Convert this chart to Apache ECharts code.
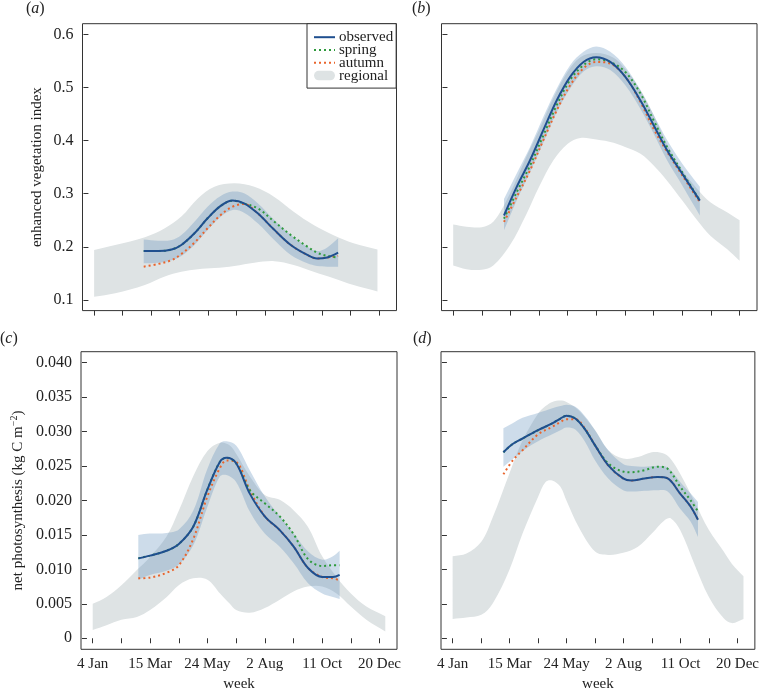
<!DOCTYPE html>
<html><head><meta charset="utf-8">
<script src="https://cdn.jsdelivr.net/npm/echarts@6/dist/echarts.min.js"></script>
<style>html,body{margin:0;padding:0;background:#fff}#c{width:762px;height:693px}</style>
</head><body><div id="c"></div>
<script>
// ---- tick definitions ----
const weekTicks = [1, 6, 11, 16, 21, 26, 31, 36, 41, 46, 51];
const dateLabelWeeks = [1, 11, 21, 31, 41, 51];
const dateLabels = ['4 Jan', '15 Mar', '24 May', '2 Aug', '11 Oct', '20 Dec'];
const eviTicks = [0.1, 0.2, 0.3, 0.4, 0.5, 0.6];
const eviTickLabels = ['0.1', '0.2', '0.3', '0.4', '0.5', '0.6'];
const npTicks = [0, 0.005, 0.010, 0.015, 0.020, 0.025, 0.030, 0.035, 0.040];
const npTickLabels = ['0', '0.005', '0.010', '0.015', '0.020', '0.025', '0.030', '0.035', '0.040'];

// ---- panel (a): EVI ----
const aRegWeeks = [1, 4.7, 9.9, 13.4, 16.3, 19.2, 22.1, 25.6, 29.1, 32.6, 36, 39.5, 43, 46.5, 50.7];
const aRegHi = [0.194, 0.2035, 0.218, 0.235, 0.257, 0.291, 0.313, 0.3195, 0.313, 0.294, 0.266, 0.241, 0.222, 0.207, 0.195];
const aRegLo = [0.106, 0.1125, 0.128, 0.144, 0.153, 0.158, 0.160, 0.164, 0.170, 0.173, 0.166, 0.153, 0.141, 0.128, 0.116];
const aObsWeeks = [9.7, 12.2, 14.6, 16.3, 18.6, 20.9, 23.2, 25.3, 27.3, 29.7, 32.6, 35.5, 38.4, 40.1, 41.9, 43.8];
const aObs = [0.192, 0.192, 0.195, 0.2035, 0.2255, 0.2537, 0.277, 0.287, 0.282, 0.263, 0.232, 0.2035, 0.1847, 0.178, 0.180, 0.189];
const aObsHi = [0.214, 0.2117, 0.213, 0.2223, 0.2474, 0.2756, 0.2957, 0.304, 0.3007, 0.282, 0.2505, 0.2223, 0.2004, 0.192, 0.199, 0.216];
const aObsLo = [0.169, 0.170, 0.175, 0.183, 0.2035, 0.2317, 0.2568, 0.2694, 0.2643, 0.2443, 0.213, 0.1847, 0.169, 0.164, 0.1627, 0.1627];
const aSpring = [0.192, 0.192, 0.195, 0.2035, 0.2255, 0.2537, 0.277, 0.287, 0.2815, 0.2725, 0.2474, 0.2223, 0.2004, 0.189, 0.183, 0.180];
const aAutumn = [0.1627, 0.1677, 0.175, 0.1866, 0.2079, 0.2349, 0.260, 0.2756, 0.2807, 0.263, 0.232, 0.2035, 0.1847, 0.178, 0.180, 0.183];

// ---- panel (b): EVI ----
const bRegWeeks = [1, 3.3, 6, 8, 10.9, 13.8, 16, 18.5, 21, 23.2, 26, 29, 31, 33.7, 36, 38.3, 41, 43.6, 45.9, 48.8, 51];
const bRegHi = [0.242, 0.238, 0.237, 0.247, 0.30, 0.37, 0.42, 0.48, 0.53, 0.557, 0.565, 0.556, 0.535, 0.495, 0.448, 0.394, 0.344, 0.309, 0.284, 0.265, 0.25];
const bRegLo = [0.165, 0.158, 0.157, 0.165, 0.203, 0.262, 0.313, 0.363, 0.394, 0.405, 0.402, 0.396, 0.388, 0.375, 0.353, 0.325, 0.287, 0.25, 0.221, 0.196, 0.174];
const bObsWeeks = [9.87, 12.09, 14.42, 16.75, 19.09, 21.42, 23.75, 25.97, 28.42, 31.05, 33.67, 36, 38.34, 40.97, 44.06];
const bObs = [0.259, 0.313, 0.363, 0.42, 0.476, 0.52, 0.548, 0.557, 0.548, 0.52, 0.476, 0.429, 0.382, 0.338, 0.287];
const bObsHi = [0.29, 0.338, 0.388, 0.445, 0.498, 0.542, 0.567, 0.577, 0.567, 0.539, 0.495, 0.448, 0.401, 0.357, 0.313];
const bObsLo = [0.231, 0.287, 0.341, 0.397, 0.454, 0.498, 0.53, 0.54, 0.533, 0.504, 0.46, 0.413, 0.363, 0.316, 0.259];
const bSpring = [0.253, 0.303, 0.353, 0.41, 0.467, 0.514, 0.542, 0.553, 0.548, 0.529, 0.489, 0.438, 0.388, 0.341, 0.287];
const bAutumn = [0.247, 0.294, 0.344, 0.401, 0.457, 0.504, 0.536, 0.548, 0.545, 0.52, 0.473, 0.422, 0.379, 0.335, 0.284];

// ---- panel (c): net photosynthesis ----
const cRegWeeks = [1, 3.4, 6, 8.7, 11, 13.9, 16, 18.5, 21, 23.2, 24.9, 26, 28.4, 31, 33.6, 36, 38.5, 41, 43.5, 46, 48.7, 52];
const cRegHi = [0.005, 0.006, 0.0077, 0.0099, 0.0118, 0.0148, 0.0185, 0.0235, 0.0272, 0.0284, 0.028, 0.0268, 0.0235, 0.0208, 0.0201, 0.0186, 0.0162, 0.0119, 0.0089, 0.0065, 0.0046, 0.0032];
const cRegLo = [0.0012, 0.0019, 0.0027, 0.0031, 0.0041, 0.006, 0.0077, 0.0087, 0.0085, 0.0065, 0.005, 0.0041, 0.0037, 0.0044, 0.0056, 0.0068, 0.0075, 0.0075, 0.0065, 0.0046, 0.0027, 0.001];
const cObsWeeks = [8.95, 10.98, 13.88, 16.02, 18.52, 20.95, 23.16, 24.32, 26.0, 28.38, 30.99, 33.6, 36.03, 38.53, 41.02, 42.88, 44.04];
const cObs = [0.0116, 0.0120, 0.0127, 0.0137, 0.0162, 0.0215, 0.0256, 0.0262, 0.0254, 0.0210, 0.0177, 0.0157, 0.0133, 0.0102, 0.0089, 0.0089, 0.0092];
const cObsHi = [0.0150, 0.0152, 0.0153, 0.0158, 0.0185, 0.0245, 0.0283, 0.0286, 0.0280, 0.0244, 0.0206, 0.0177, 0.0152, 0.0126, 0.0114, 0.0119, 0.0127];
const cObsLo = [0.0085, 0.0092, 0.0098, 0.0107, 0.0135, 0.0190, 0.0235, 0.0237, 0.0227, 0.0184, 0.0152, 0.0133, 0.0109, 0.0080, 0.0065, 0.0060, 0.0057];
const cSpring = [0.0116, 0.0120, 0.0127, 0.0137, 0.0162, 0.0215, 0.0256, 0.0262, 0.0254, 0.0215, 0.0196, 0.0177, 0.0151, 0.0115, 0.0105, 0.0106, 0.0106];
const cAutumn = [0.0087, 0.0088, 0.0095, 0.0106, 0.0144, 0.0205, 0.0247, 0.0258, 0.0256, 0.0215, 0.0177, 0.0157, 0.0133, 0.0102, 0.0089, 0.0087, 0.0084];

// ---- panel (d): net photosynthesis ----
const dRegWeeks = [1, 3.43, 6.03, 8.06, 10.95, 13.27, 15.99, 17.32, 18.48, 19.92, 20.97, 23.1, 26, 28.31, 30.92, 33.52, 35.95, 38.15, 39.31, 40.93, 43.36, 45.97, 48.57, 50.02, 52.04];
const dRegHi = [0.0119, 0.0123, 0.014, 0.0176, 0.0239, 0.0287, 0.0326, 0.0337, 0.0343, 0.0345, 0.0343, 0.0331, 0.0302, 0.0273, 0.0261, 0.0263, 0.027, 0.0268, 0.026, 0.0239, 0.02, 0.0157, 0.0126, 0.0108, 0.009];
const dRegLo = [0.0028, 0.003, 0.0034, 0.0051, 0.0099, 0.0152, 0.0205, 0.0227, 0.0229, 0.022, 0.02, 0.0162, 0.0126, 0.0121, 0.0124, 0.0133, 0.0152, 0.0171, 0.0174, 0.0157, 0.0109, 0.006, 0.0029, 0.0022, 0.0028];
const dObsWeeks = [9.91, 11.53, 13.27, 15.99, 18.48, 19.92, 20.97, 22.53, 24.26, 26, 28.31, 30.92, 32.37, 34.68, 36.99, 38.73, 40.93, 42.78, 44.06];
const dObs = [0.027, 0.0282, 0.029, 0.0302, 0.0312, 0.0319, 0.0323, 0.0319, 0.0303, 0.028, 0.0251, 0.0232, 0.0229, 0.0232, 0.0234, 0.0232, 0.021, 0.0191, 0.0172];
const dObsHi = [0.0305, 0.0312, 0.032, 0.0327, 0.0334, 0.0337, 0.0339, 0.0336, 0.0322, 0.0302, 0.0273, 0.0253, 0.025, 0.0249, 0.025, 0.0248, 0.0227, 0.021, 0.0198];
const dObsLo = [0.0249, 0.026, 0.0272, 0.0286, 0.0296, 0.0302, 0.0306, 0.0303, 0.0285, 0.0258, 0.0232, 0.0215, 0.0213, 0.0214, 0.0215, 0.0213, 0.0188, 0.0169, 0.0147];
const dSpring = [0.027, 0.0282, 0.029, 0.0302, 0.0312, 0.0319, 0.0323, 0.0319, 0.0303, 0.028, 0.0254, 0.0242, 0.0241, 0.0244, 0.0249, 0.0246, 0.022, 0.020, 0.0184];
const dAutumn = [0.0238, 0.0258, 0.0273, 0.0296, 0.0307, 0.0314, 0.0318, 0.0318, 0.0304, 0.028, 0.0251, 0.0232, 0.0229, 0.0232, 0.0234, 0.0232, 0.021, 0.0191, 0.0172];

// ---- styling ----
const FONT = 'Liberation Serif';
const C_OBS = '#1f4f8f', C_SPR = '#2e9a3c', C_AUT = '#e9652d';
const C_REG = '#dee3e4', C_BAND = 'rgba(90,140,185,0.3)';
const SMOOTH = 0.35;

const panels = [
  { id: 'a', grid: { left: 82.5, top: 23.7, width: 314, height: 286.9 }, reg: [aRegWeeks, aRegLo, aRegHi], obs: [aObsWeeks, aObs, aObsLo, aObsHi, aSpring, aAutumn], evi: true, leftCol: true, bottom: false },
  { id: 'b', grid: { left: 441.5, top: 23.7, width: 315.5, height: 286.9 }, reg: [bRegWeeks, bRegLo, bRegHi], obs: [bObsWeeks, bObs, bObsLo, bObsHi, bSpring, bAutumn], evi: true, leftCol: false, bottom: false },
  { id: 'c', grid: { left: 81, top: 351.7, width: 316, height: 297.6 }, reg: [cRegWeeks, cRegLo, cRegHi], obs: [cObsWeeks, cObs, cObsLo, cObsHi, cSpring, cAutumn], evi: false, leftCol: true, bottom: true },
  { id: 'd', grid: { left: 441, top: 351.7, width: 317, height: 297.6 }, reg: [dRegWeeks, dRegLo, dRegHi], obs: [dObsWeeks, dObs, dObsLo, dObsHi, dSpring, dAutumn], evi: false, leftCol: false, bottom: true }
];

function bandRender(weeks, lo, hi, color) {
  return function (params, api) {
    if (params.dataIndex !== 0) return null;
    const top = weeks.map((w, k) => api.coord([w, hi[k]]));
    const bot = weeks.map((w, k) => api.coord([w, lo[k]])).reverse();
    const pts = [].concat(top, [top[top.length - 1].slice()], [bot[0].slice()], bot, [bot[bot.length - 1].slice()], [top[0].slice()]);
    return { type: 'polygon', shape: { points: pts, smooth: SMOOTH }, style: { fill: color }, silent: true };
  };
}

const grids = [], xAxes = [], yAxes = [], series = [], titles = [];
const tickStyle = { color: '#333', width: 1 };
const labelBase = { fontFamily: FONT, fontSize: 15, color: '#222' };
const yLabelBase = { fontFamily: FONT, fontSize: 16, color: '#222' };

panels.forEach((p, i) => {
  grids.push(Object.assign({ show: true, borderColor: '#333', borderWidth: 1, backgroundColor: 'transparent', containLabel: false }, p.grid));
  xAxes.push({
    gridIndex: i, type: 'value', min: -1.04, max: 54.04,
    axisLine: { show: false }, splitLine: { show: false },
    axisTick: { show: true, customValues: weekTicks, length: 5, lineStyle: tickStyle },
    axisLabel: Object.assign({ show: p.bottom, customValues: dateLabelWeeks, margin: 7,
      formatter: v => { const k = dateLabelWeeks.findIndex(x => Math.abs(x - v) < 1e-6); return k >= 0 ? dateLabels[k] : ''; } }, labelBase),
    name: p.bottom ? 'week' : '', nameLocation: 'middle', nameGap: 27,
    nameTextStyle: labelBase
  });
  const yt = p.evi ? eviTicks : npTicks, yl = p.evi ? eviTickLabels : npTickLabels;
  yAxes.push({
    gridIndex: i, type: 'value', min: p.evi ? 0.08 : -0.0016, max: p.evi ? 0.62 : 0.0416,
    axisLine: { show: false }, splitLine: { show: false },
    axisTick: { show: true, customValues: yt, length: 5, lineStyle: tickStyle },
    axisLabel: Object.assign({ show: p.leftCol, customValues: yt, margin: 9,
      formatter: v => { const k = yt.findIndex(x => Math.abs(x - v) < 1e-9); return k >= 0 ? yl[k] : ''; } }, yLabelBase),
    name: p.leftCol ? (p.evi ? 'enhanced vegetation index' : 'net photosynthesis (kg C m{sup|−2})') : '',
    nameLocation: 'middle', nameGap: p.evi ? 38 : 54,
    nameTextStyle: Object.assign({ rich: { sup: { fontFamily: FONT, fontSize: 10, verticalAlign: 'top', padding: [0, 0, 8, 0] } } }, labelBase)
  });
  const [rw, rlo, rhi] = p.reg;
  series.push({
    type: 'custom', name: 'regional', xAxisIndex: i, yAxisIndex: i,
    data: rw.map((w, k) => [w, rlo[k], rhi[k]]), encode: { x: 0, y: [1, 2] },
    itemStyle: { color: C_REG }, renderItem: bandRender(rw, rlo, rhi, C_REG), z: 1
  });
  const [ow, ov, olo, ohi, os, oa] = p.obs;
  series.push({
    type: 'custom', name: 'observed range', xAxisIndex: i, yAxisIndex: i,
    data: ow.map((w, k) => [w, olo[k], ohi[k]]), encode: { x: 0, y: [1, 2] },
    itemStyle: { color: C_BAND }, renderItem: bandRender(ow, olo, ohi, C_BAND), z: 2
  });
  const lineBase = { type: 'line', xAxisIndex: i, yAxisIndex: i, symbol: 'none', showSymbol: false, smooth: SMOOTH, silent: true, z: 3 };
  series.push(Object.assign({}, lineBase, { name: 'autumn', data: ow.map((w, k) => [w, oa[k]]), itemStyle: { color: C_AUT }, lineStyle: { color: C_AUT, width: 2, type: [2, 3] } }));
  series.push(Object.assign({}, lineBase, { name: 'spring', data: ow.map((w, k) => [w, os[k]]), itemStyle: { color: C_SPR }, lineStyle: { color: C_SPR, width: 2, type: [2, 3] } }));
  series.push(Object.assign({}, lineBase, { name: 'observed', data: ow.map((w, k) => [w, ov[k]]), itemStyle: { color: C_OBS }, lineStyle: { color: C_OBS, width: 2 }, z: 4 }));
});

const panelLabelPos = { a: [26, 1], b: [412, 1], c: [0, 331], d: [413, 331] };
panels.forEach(p => {
  titles.push({
    text: '{p|(}{i|' + p.id + '}{p|)}', left: panelLabelPos[p.id][0], top: panelLabelPos[p.id][1], padding: 0,
    textStyle: { fontWeight: 'normal', rich: {
      p: { fontFamily: FONT, fontSize: 16, fontWeight: 'normal', color: '#222' },
      i: { fontFamily: FONT, fontSize: 16, fontWeight: 'normal', fontStyle: 'italic', color: '#222' } } }
  });
});

const pill = 'path://M5,0 L17,0 A5,5 0 0 1 17,10 L5,10 A5,5 0 0 1 5,0 Z';
const hideSym = { opacity: 0 };

const chart = echarts.init(document.getElementById('c'), null, { renderer: 'canvas' });
chart.setOption({
  animation: false,
  backgroundColor: '#fff',
  title: titles,
  grid: grids, xAxis: xAxes, yAxis: yAxes, series: series,
  legend: {
    orient: 'vertical', left: 307, top: 23.7, selectedMode: false,
    backgroundColor: '#fff', borderColor: '#333', borderWidth: 1, borderRadius: 0,
    padding: [6, 3, 5, 6], itemWidth: 21, itemHeight: 10, itemGap: -2.2,
    textStyle: { fontFamily: FONT, fontSize: 15, color: '#222', padding: [0, 0, 0, -1] },
    data: [
      { name: 'observed', itemStyle: hideSym },
      { name: 'spring', itemStyle: hideSym },
      { name: 'autumn', itemStyle: hideSym },
      { name: 'regional', icon: pill, itemStyle: { color: C_REG, opacity: 1 } }
    ]
  }
});
</script></body></html>
